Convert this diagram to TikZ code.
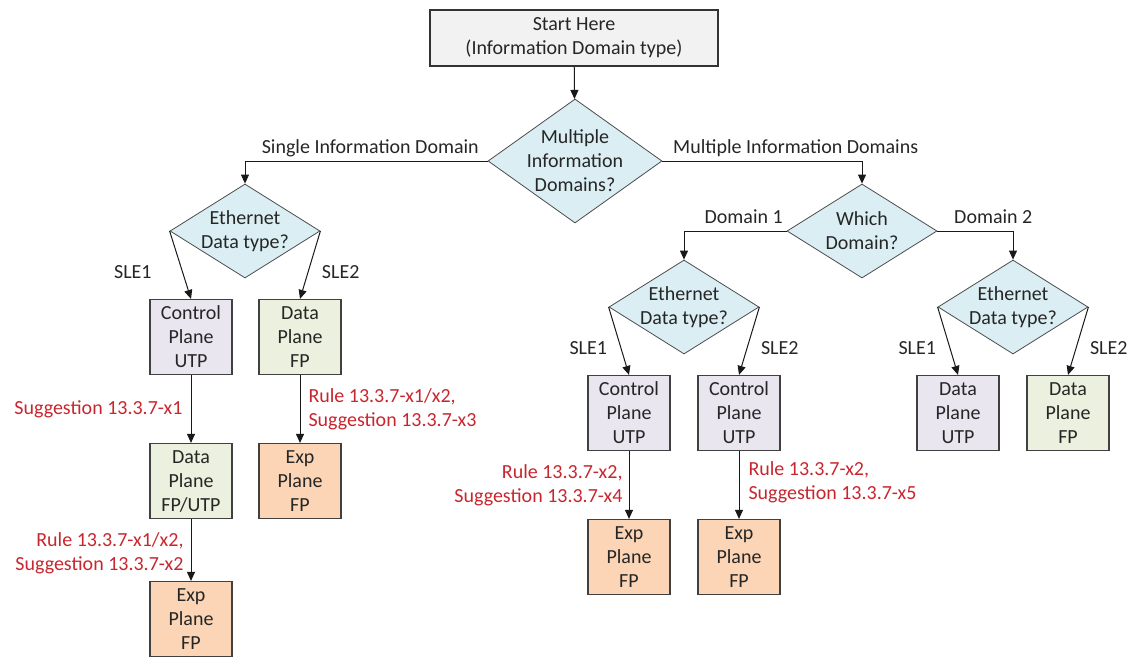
\documentclass[tikz,border=0pt]{standalone}
\usepackage{fontspec}
\setmainfont{Carlito}
\usetikzlibrary{shapes.geometric,arrows.meta}
\definecolor{askblue}{HTML}{DAEEF3}
\definecolor{utpfill}{HTML}{E9E6EF}
\definecolor{fpfill}{HTML}{EBF1DE}
\definecolor{expfill}{HTML}{FBD5B5}
\definecolor{rulered}{HTML}{C8262E}

\begin{document}
\begin{tikzpicture}[x=1pt,y=-1pt,font=\fontsize{20}{24}\selectfont,text=black!85,node distance=144pt,
    decision/.style={diamond,draw=black!70,line width=0.8pt,fill=askblue,inner sep=-12pt,minimum width=150pt,minimum height=94pt,align=center},
    plane/.style={rectangle,draw=black!75,line width=1.2pt,minimum width=82pt,minimum height=75pt,inner sep=0pt,align=center},
    flow/.style={draw=black!90,line width=1pt,-{Triangle[length=9pt,width=8pt]}},
    rule/.style={text=rulered,inner sep=3pt}]
    \useasboundingbox (0,0) rectangle (1134,656);

    \node [rectangle,draw=black!80,line width=1.3pt,fill=black!5,minimum width=288pt,minimum height=56pt,align=center] (start) at (574,38) {Start Here\\(Information Domain type)};
    \node [decision,minimum width=174pt,minimum height=124pt] (multi) at (575,161) {Multiple\\Information\\Domains?};
    \node [decision] (eth1) at (245,231) {Ethernet\\Data type?};
    \node [decision] (which) at (862,231) {Which\\Domain?};
    \node [decision] (eth2) at (684,307) {Ethernet\\Data type?};
    \node [decision] (eth3) at (1013,307) {Ethernet\\Data type?};

    \node [plane,fill=utpfill] (cpu1) at (191,337) {Control\\Plane\\UTP};
    \node [plane,fill=fpfill] (dpf1) at (300,337) {Data\\Plane\\FP};
    \node [plane,fill=fpfill] (dpfu1) [below of=cpu1] {Data\\Plane\\FP/UTP};
    \node [plane,fill=expfill] (exp1) [below of=dpfu1,node distance=138pt] {Exp\\Plane\\FP};
    \node [plane,fill=expfill] (exp2) [below of=dpf1] {Exp\\Plane\\FP};

    \node [plane,fill=utpfill] (cpu2) at (629,413) {Control\\Plane\\UTP};
    \node [plane,fill=utpfill] (cpu3) at (739,413) {Control\\Plane\\UTP};
    \node [plane,fill=expfill] (exp3) [below of=cpu2] {Exp\\Plane\\FP};
    \node [plane,fill=expfill] (exp4) [below of=cpu3] {Exp\\Plane\\FP};

    \node [plane,fill=utpfill] (dpu3) at (958,413) {Data\\Plane\\UTP};
    \node [plane,fill=fpfill] (dpf3) at (1068,413) {Data\\Plane\\FP};

    \draw [flow] (start) -- (multi);
    \draw [flow] (multi.west) -| node [pos=0,anchor=south east,xshift=-5pt] {Single Information Domain} (eth1.north);
    \draw [flow] (multi.east) -| node [pos=0,anchor=south west,xshift=7pt] {Multiple Information Domains} (which.north);
    \draw [flow] (which.west) -| node [pos=0,anchor=south east,yshift=4pt] {Domain 1} (eth2.north);
    \draw [flow] (which.east) -| node [pos=0,anchor=south west,xshift=13pt,yshift=4pt] {Domain 2} (eth3.north);

    \draw [flow] (eth1.west) -- node [pos=.6,left=27pt] {SLE1} (cpu1.north);
    \draw [flow] (eth1.east) -- node [pos=.6,right=10pt] {SLE2} (dpf1.north);
    \draw [flow] (eth2.west) -- node [pos=.6,left=10pt] {SLE1} (cpu2.north);
    \draw [flow] (eth2.east) -- node [pos=.6,right=10pt] {SLE2} (cpu3.north);
    \draw [flow] (eth3.west) -- node [pos=.6,left=10pt] {SLE1} (dpu3.north);
    \draw [flow] (eth3.east) -- node [pos=.6,right=10pt] {SLE2} (dpf3.north);

    \draw [flow] (cpu1) -- node [rule,left=5pt] {Suggestion 13.3.7-x1} (dpfu1);
    \draw [flow] (dpfu1) -- node [rule,left=4pt,align=right,yshift=-3pt] {Rule 13.3.7-x1/x2,\\Suggestion 13.3.7-x2} (exp1);
    \draw [flow] (dpf1) -- node [rule,right=5pt,align=left] {Rule 13.3.7-x1/x2,\\Suggestion 13.3.7-x3} (exp2);
    \draw [flow] (cpu2) -- node [rule,left=3pt,align=right] {Rule 13.3.7-x2,\\Suggestion 13.3.7-x4} (exp3);
    \draw [flow] (cpu3) -- node [rule,right=6pt,align=left,yshift=3pt] {Rule 13.3.7-x2,\\Suggestion 13.3.7-x5} (exp4);
\end{tikzpicture}
\end{document}
